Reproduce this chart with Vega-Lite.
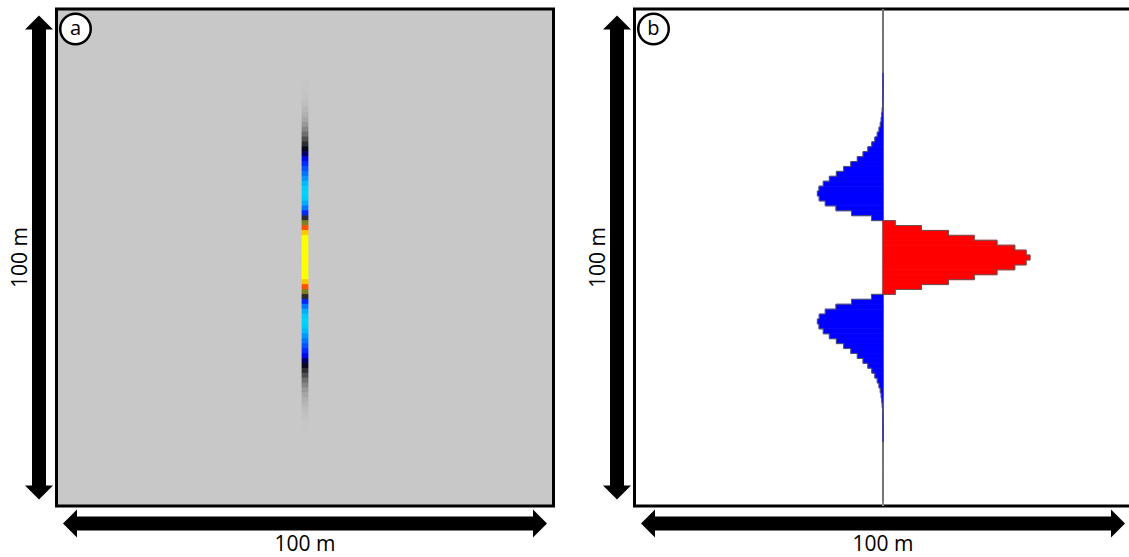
{
  "$schema": "https://vega.github.io/schema/vega-lite/v6.json",
  "padding": {"left": 7.5, "top": 5, "right": 0, "bottom": 4},
  "background": "white",
  "spacing": 81,
  "bounds": "flush",
  "config": {"font": "Open Sans", "view": {"stroke": "black", "strokeWidth": 3}},
  "datasets": {
    "trace": [
      {"z0":0,"z1":1,"amp":0},{"z0":1,"z1":2,"amp":0},{"z0":2,"z1":3,"amp":0},{"z0":3,"z1":4,"amp":0},{"z0":4,"z1":5,"amp":0},
      {"z0":5,"z1":6,"amp":0},{"z0":6,"z1":7,"amp":0},{"z0":7,"z1":8,"amp":0},{"z0":8,"z1":9,"amp":0},{"z0":9,"z1":10,"amp":0},
      {"z0":10,"z1":11,"amp":0},{"z0":11,"z1":12,"amp":0},{"z0":12,"z1":13,"amp":0},{"z0":13,"z1":14,"amp":-0.0001},{"z0":14,"z1":15,"amp":-0.0002},
      {"z0":15,"z1":16,"amp":-0.0004},{"z0":16,"z1":17,"amp":-0.0007},{"z0":17,"z1":18,"amp":-0.0012},{"z0":18,"z1":19,"amp":-0.0019},{"z0":19,"z1":20,"amp":-0.0031},
      {"z0":20,"z1":21,"amp":-0.0050},{"z0":21,"z1":22,"amp":-0.0079},{"z0":22,"z1":23,"amp":-0.0122},{"z0":23,"z1":24,"amp":-0.0183},{"z0":24,"z1":25,"amp":-0.0271},
      {"z0":25,"z1":26,"amp":-0.0391},{"z0":26,"z1":27,"amp":-0.0553},{"z0":27,"z1":28,"amp":-0.0762},{"z0":28,"z1":29,"amp":-0.1030},{"z0":29,"z1":30,"amp":-0.1357},
      {"z0":30,"z1":31,"amp":-0.1746},{"z0":31,"z1":32,"amp":-0.2189},{"z0":32,"z1":33,"amp":-0.2672},{"z0":33,"z1":34,"amp":-0.3170},{"z0":34,"z1":35,"amp":-0.3648},
      {"z0":35,"z1":36,"amp":-0.4060},{"z0":36,"z1":37,"amp":-0.4351},{"z0":37,"z1":38,"amp":-0.4463},{"z0":38,"z1":39,"amp":-0.4337},{"z0":39,"z1":40,"amp":-0.3926},
      {"z0":40,"z1":41,"amp":-0.3198},{"z0":41,"z1":42,"amp":-0.2142},{"z0":42,"z1":43,"amp":-0.0780},{"z0":43,"z1":44,"amp":0.0834},{"z0":44,"z1":45,"amp":0.2614},
      {"z0":45,"z1":46,"amp":0.4449},{"z0":46,"z1":47,"amp":0.6207},{"z0":47,"z1":48,"amp":0.7754},{"z0":48,"z1":49,"amp":0.8964},{"z0":49,"z1":50,"amp":0.9735},
      {"z0":50,"z1":51,"amp":1.0},
      {"z0":51,"z1":52,"amp":0.9735},{"z0":52,"z1":53,"amp":0.8964},{"z0":53,"z1":54,"amp":0.7754},{"z0":54,"z1":55,"amp":0.6207},{"z0":55,"z1":56,"amp":0.4449},
      {"z0":56,"z1":57,"amp":0.2614},{"z0":57,"z1":58,"amp":0.0834},{"z0":58,"z1":59,"amp":-0.0780},{"z0":59,"z1":60,"amp":-0.2142},{"z0":60,"z1":61,"amp":-0.3198},
      {"z0":61,"z1":62,"amp":-0.3926},{"z0":62,"z1":63,"amp":-0.4337},{"z0":63,"z1":64,"amp":-0.4463},{"z0":64,"z1":65,"amp":-0.4351},{"z0":65,"z1":66,"amp":-0.4060},
      {"z0":66,"z1":67,"amp":-0.3648},{"z0":67,"z1":68,"amp":-0.3170},{"z0":68,"z1":69,"amp":-0.2672},{"z0":69,"z1":70,"amp":-0.2189},{"z0":70,"z1":71,"amp":-0.1746},
      {"z0":71,"z1":72,"amp":-0.1357},{"z0":72,"z1":73,"amp":-0.1030},{"z0":73,"z1":74,"amp":-0.0762},{"z0":74,"z1":75,"amp":-0.0553},{"z0":75,"z1":76,"amp":-0.0391},
      {"z0":76,"z1":77,"amp":-0.0271},{"z0":77,"z1":78,"amp":-0.0183},{"z0":78,"z1":79,"amp":-0.0122},{"z0":79,"z1":80,"amp":-0.0079},{"z0":80,"z1":81,"amp":-0.0050},
      {"z0":81,"z1":82,"amp":-0.0031},{"z0":82,"z1":83,"amp":-0.0019},{"z0":83,"z1":84,"amp":-0.0012},{"z0":84,"z1":85,"amp":-0.0007},{"z0":85,"z1":86,"amp":-0.0004},
      {"z0":86,"z1":87,"amp":-0.0002},{"z0":87,"z1":88,"amp":-0.0001},{"z0":88,"z1":89,"amp":0},{"z0":89,"z1":90,"amp":0},{"z0":90,"z1":91,"amp":0},
      {"z0":91,"z1":92,"amp":0},{"z0":92,"z1":93,"amp":0},{"z0":93,"z1":94,"amp":0},{"z0":94,"z1":95,"amp":0},{"z0":95,"z1":96,"amp":0},
      {"z0":96,"z1":97,"amp":0},{"z0":97,"z1":98,"amp":0},{"z0":98,"z1":99,"amp":0},{"z0":99,"z1":100,"amp":0},{"z0":100,"z1":101,"amp":0}
    ],
    "label": [{"dist": "100 m"}]
  },
  "hconcat": [
    {
      "width": 497,
      "height": 497,
      "view": {"fill": "#c8c8c8", "stroke": "black", "strokeWidth": 3},
      "resolve": {"scale": {"x": "independent", "y": "independent"}},
      "layer": [
        {
          "data": {"name": "trace"},
          "transform": [{"filter": "datum.amp != 0"}],
          "mark": {"type": "rect", "strokeWidth": 0.8},
          "encoding": {
            "x": {"datum": 49.4, "type": "quantitative", "scale": {"domain": [0, 100], "nice": false}, "axis": null},
            "x2": {"datum": 50.6},
            "y": {"field": "z0", "type": "quantitative", "scale": {"domain": [0, 101], "nice": false, "reverse": true}, "axis": null},
            "y2": {"field": "z1"},
            "color": {
              "field": "amp", "type": "quantitative", "legend": null,
              "scale": {
                "type": "linear", "interpolate": "rgb",
                "domain": [-0.4463, -0.42, -0.38, -0.31, -0.25, -0.2, -0.16, -0.13, -0.1, -0.08, -0.055, -0.03, -0.015, -0.005, 0, 0.083, 0.26, 0.44, 0.62, 1],
                "range": ["#00d4ff", "#00c4ff", "#00a4ff", "#0070ff", "#0048ff", "#0018ff", "#0000e0", "#000050", "#08081a", "#262630", "#505050", "#808080", "#a0a0a0", "#b8b8b8", "#c8c8c8", "#7e7e22", "#ff5000", "#ffc400", "#ffff00", "#ffff00"]
              }
            },
            "stroke": {
              "field": "amp", "type": "quantitative", "legend": null,
              "scale": {
                "type": "linear", "interpolate": "rgb",
                "domain": [-0.4463, -0.42, -0.38, -0.31, -0.25, -0.2, -0.16, -0.13, -0.1, -0.08, -0.055, -0.03, -0.015, -0.005, 0, 0.083, 0.26, 0.44, 0.62, 1],
                "range": ["#00d4ff", "#00c4ff", "#00a4ff", "#0070ff", "#0048ff", "#0018ff", "#0000e0", "#000050", "#08081a", "#262630", "#505050", "#808080", "#a0a0a0", "#b8b8b8", "#c8c8c8", "#7e7e22", "#ff5000", "#ffc400", "#ffff00", "#ffff00"]
              }
            }
          }
        },
        {
          "data": {"name": "label"},
          "encoding": {
            "x": {"type": "quantitative", "scale": {"domain": [0, 100], "nice": false}, "axis": null},
            "y": {"type": "quantitative", "scale": {"domain": [0, 100], "nice": false, "reverse": true}, "axis": null}
          },
          "layer": [
            {"mark": {"type": "rule", "color": "black", "strokeWidth": 14, "strokeCap": "butt"},
             "encoding": {"x": {"datum": 4.0}, "x2": {"datum": 96.0}, "y": {"datum": 103.52}}},
            {"mark": {"type": "rule", "color": "black", "strokeWidth": 14, "strokeCap": "butt"},
             "encoding": {"x": {"datum": -3.52}, "y": {"datum": 4.0}, "y2": {"datum": 96.0}}},
            {"mark": {"type": "point", "shape": "M-1,0L0,-1L0,1Z", "size": 784, "filled": true, "color": "black", "opacity": 1},
             "encoding": {"x": {"datum": 4.12}, "y": {"datum": 103.52}}},
            {"mark": {"type": "point", "shape": "M1,0L0,-1L0,1Z", "size": 784, "filled": true, "color": "black", "opacity": 1},
             "encoding": {"x": {"datum": 95.88}, "y": {"datum": 103.52}}},
            {"mark": {"type": "point", "shape": "M0,-1L-1,0L1,0Z", "size": 784, "filled": true, "color": "black", "opacity": 1},
             "encoding": {"x": {"datum": -3.52}, "y": {"datum": 4.12}}},
            {"mark": {"type": "point", "shape": "M0,1L-1,0L1,0Z", "size": 784, "filled": true, "color": "black", "opacity": 1},
             "encoding": {"x": {"datum": -3.52}, "y": {"datum": 95.88}}},
            {"mark": {"type": "text", "fontSize": 21, "font": "Open Sans", "align": "center", "baseline": "alphabetic", "color": "black"},
             "encoding": {"x": {"datum": 50}, "y": {"datum": 109.15}, "text": {"field": "dist"}}},
            {"mark": {"type": "text", "fontSize": 21, "font": "Open Sans", "align": "center", "baseline": "alphabetic", "angle": 270, "color": "black"},
             "encoding": {"x": {"datum": -5.94}, "y": {"datum": 50}, "text": {"field": "dist"}}},
            {"mark": {"type": "point", "shape": "circle", "size": 930, "filled": true, "fill": "white", "stroke": "black", "strokeWidth": 2.5, "opacity": 1},
             "encoding": {"x": {"datum": 3.82}, "y": {"datum": 4.02}}},
            {"mark": {"type": "text", "text": "a", "fontSize": 20, "font": "Open Sans", "align": "center", "baseline": "alphabetic", "color": "black"},
             "encoding": {"x": {"datum": 3.82}, "y": {"datum": 5.33}}}
          ]
        }
      ]
    },
    {
      "width": 497,
      "height": 497,
      "view": {"fill": "white", "stroke": "black", "strokeWidth": 3},
      "resolve": {"scale": {"x": "independent", "y": "independent"}},
      "layer": [
        {
          "data": {"name": "trace"},
          "encoding": {
            "x": {"field": "amp", "type": "quantitative", "scale": {"domain": [-1.69, 1.69], "nice": false, "zero": false}, "axis": null},
            "y": {"field": "z0", "type": "quantitative", "scale": {"domain": [0, 101], "nice": false, "reverse": true}, "axis": null}
          },
          "layer": [
            {"mark": {"type": "rule", "color": "#8a8a8a", "strokeWidth": 1},
             "encoding": {"x": {"datum": 0}, "y": {"datum": 0}, "y2": {"datum": 101}}},
            {"transform": [{"filter": "datum.amp != 0"}],
             "mark": {"type": "rect", "strokeWidth": 0.8},
             "encoding": {
               "x2": {"datum": 0},
               "y2": {"field": "z1"},
               "color": {"condition": {"test": "datum.amp > 0", "value": "#ff0000"}, "value": "#0000ff"},
               "stroke": {"condition": {"test": "datum.amp > 0", "value": "#ff0000"}, "value": "#0000ff"}
             }},
            {"mark": {"type": "line", "interpolate": "step-before", "color": "#5a5a5a", "strokeWidth": 0.9},
             "encoding": {
               "order": {"field": "z0", "type": "quantitative"}
             }}
          ]
        },
        {
          "data": {"name": "label"},
          "encoding": {
            "x": {"type": "quantitative", "scale": {"domain": [0, 100], "nice": false}, "axis": null},
            "y": {"type": "quantitative", "scale": {"domain": [0, 100], "nice": false, "reverse": true}, "axis": null}
          },
          "layer": [
            {"mark": {"type": "rule", "color": "black", "strokeWidth": 14, "strokeCap": "butt"},
             "encoding": {"x": {"datum": 4.0}, "x2": {"datum": 96.0}, "y": {"datum": 103.52}}},
            {"mark": {"type": "rule", "color": "black", "strokeWidth": 14, "strokeCap": "butt"},
             "encoding": {"x": {"datum": -3.52}, "y": {"datum": 4.0}, "y2": {"datum": 96.0}}},
            {"mark": {"type": "point", "shape": "M-1,0L0,-1L0,1Z", "size": 784, "filled": true, "color": "black", "opacity": 1},
             "encoding": {"x": {"datum": 4.12}, "y": {"datum": 103.52}}},
            {"mark": {"type": "point", "shape": "M1,0L0,-1L0,1Z", "size": 784, "filled": true, "color": "black", "opacity": 1},
             "encoding": {"x": {"datum": 95.88}, "y": {"datum": 103.52}}},
            {"mark": {"type": "point", "shape": "M0,-1L-1,0L1,0Z", "size": 784, "filled": true, "color": "black", "opacity": 1},
             "encoding": {"x": {"datum": -3.52}, "y": {"datum": 4.12}}},
            {"mark": {"type": "point", "shape": "M0,1L-1,0L1,0Z", "size": 784, "filled": true, "color": "black", "opacity": 1},
             "encoding": {"x": {"datum": -3.52}, "y": {"datum": 95.88}}},
            {"mark": {"type": "text", "fontSize": 21, "font": "Open Sans", "align": "center", "baseline": "alphabetic", "color": "black"},
             "encoding": {"x": {"datum": 50}, "y": {"datum": 109.15}, "text": {"field": "dist"}}},
            {"mark": {"type": "text", "fontSize": 21, "font": "Open Sans", "align": "center", "baseline": "alphabetic", "angle": 270, "color": "black"},
             "encoding": {"x": {"datum": -5.94}, "y": {"datum": 50}, "text": {"field": "dist"}}},
            {"mark": {"type": "point", "shape": "circle", "size": 930, "filled": true, "fill": "white", "stroke": "black", "strokeWidth": 2.5, "opacity": 1},
             "encoding": {"x": {"datum": 3.82}, "y": {"datum": 4.02}}},
            {"mark": {"type": "text", "text": "b", "fontSize": 20, "font": "Open Sans", "align": "center", "baseline": "alphabetic", "color": "black"},
             "encoding": {"x": {"datum": 3.82}, "y": {"datum": 5.33}}}
          ]
        }
      ]
    }
  ]
}
